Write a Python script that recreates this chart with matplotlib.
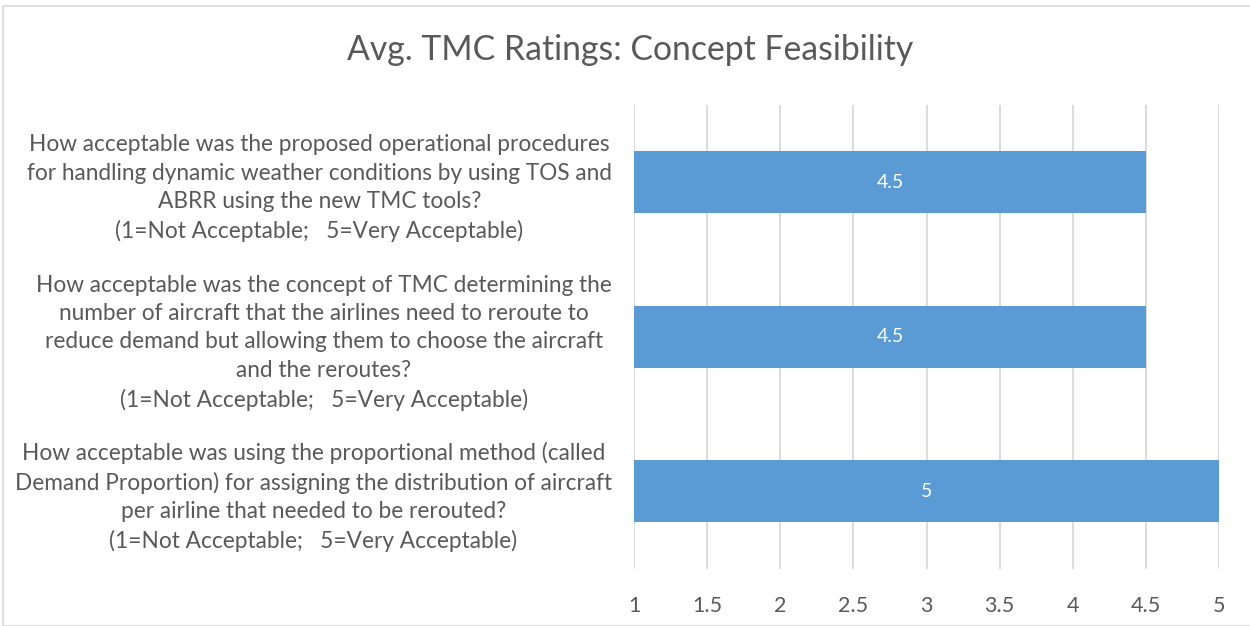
import matplotlib
matplotlib.use("Agg")
import matplotlib.pyplot as plt
from matplotlib.patches import Rectangle

questions = [
    "How acceptable was the proposed operational procedures\nfor handling dynamic weather conditions by using TOS and\nABRR using the new TMC tools?\n(1=Not Acceptable;   5=Very Acceptable)",
    "How acceptable was the concept of TMC determining the\nnumber of aircraft that the airlines need to reroute to\nreduce demand but allowing them to choose the aircraft\nand the reroutes?\n(1=Not Acceptable;   5=Very Acceptable)",
    "How acceptable was using the proportional method (called\nDemand Proportion) for assigning the distribution of aircraft\nper airline that needed to be rerouted?\n(1=Not Acceptable;   5=Very Acceptable)",
]
ratings = [4.5, 4.5, 5]
value_labels = ["4.5", "4.5", "5"]
xticks = [1, 1.5, 2, 2.5, 3, 3.5, 4, 4.5, 5]
xtick_labels = ["1", "1.5", "2", "2.5", "3", "3.5", "4", "4.5", "5"]
title = "Avg. TMC Ratings: Concept Feasibility"

plt.rcParams['font.family'] = ['Lato', 'DejaVu Sans']
W, H = 1250, 626
fig = plt.figure(figsize=(W/100, H/100), dpi=100)
ax = fig.add_axes([634/W, 1-568.5/H, (1219-634)/W, 463.5/H])

text_col = "#595959"
bar_col = "#5B9BD5"
grid_col = "#D9D9D9"

ypos = list(range(len(questions)))
bars = ax.barh(ypos, [r - 1 for r in ratings], left=1, height=0.4, color=bar_col, zorder=3)
for b, lab in zip(bars, value_labels):
    ax.text(b.get_x() + b.get_width()/2, b.get_y() + b.get_height()/2, lab,
            ha='center', va='center', color='white', fontsize=14, zorder=4)

ax.set_xlim(1, 5)
ax.set_ylim(len(questions) - 0.5, -0.5)
ax.set_xticks(xticks)
ax.set_xticklabels(xtick_labels)
ax.set_yticks(ypos)
ax.set_yticklabels(questions, ha='right', multialignment='center', linespacing=1.43)
ax.tick_params(axis='y', length=0, pad=16, labelsize=16.3, labelcolor=text_col)
ax.tick_params(axis='x', length=0, pad=20, labelsize=15.5, labelcolor=text_col)
for s in ax.spines.values():
    s.set_visible(False)
ax.xaxis.grid(True, color=grid_col, linewidth=1.3, zorder=0)
ax.set_axisbelow(True)

fig.text(630/W, 1-50/H, title, ha='center', va='center', fontsize=24.3, color=text_col)
fig.patches.append(Rectangle((3/W, 0), 1, 1-6/H, transform=fig.transFigure,
                             fill=False, edgecolor=grid_col, linewidth=1.2))

fig.savefig("out.png", dpi=100)
